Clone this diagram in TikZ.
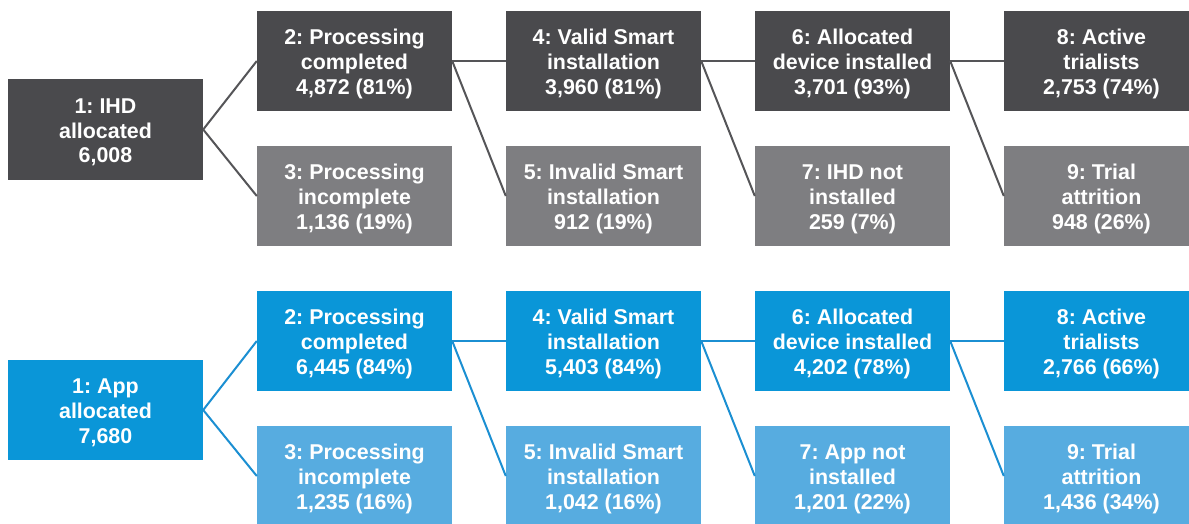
\documentclass[tikz,border=0pt]{standalone}
\usepackage{fontspec}
\setmainfont{Liberation Sans}
\definecolor{darkbox}{HTML}{4A4A4D}
\definecolor{greybox}{HTML}{7E7E81}
\definecolor{greyline}{HTML}{555558}
\definecolor{bluebox}{HTML}{0A96D8}
\definecolor{lightblue}{HTML}{57ACE0}
\definecolor{blueline}{HTML}{1B8FD2}
\tikzset{
  stagebox/.style={rectangle, inner sep=0pt, minimum width=195pt, minimum height=100pt,
    text height=66.6pt, text depth=0pt,
    align=center, text=white, font=\fontsize{21.4}{24.8}\selectfont\bfseries\frenchspacing},
  darkstage/.style={stagebox, fill=darkbox},
  greystage/.style={stagebox, fill=greybox},
  bluestage/.style={stagebox, fill=bluebox},
  lightstage/.style={stagebox, fill=lightblue},
  greylink/.style={draw=greyline, line width=2pt},
  bluelink/.style={draw=blueline, line width=2pt},
}
\begin{document}
\begin{tikzpicture}[x=1pt, y=-1pt]
\useasboundingbox (0,0) rectangle (1189,523);
\clip (0,0) rectangle (1189,523);
\fill[white] (0,0) rectangle (1189,523);

% IHD funnel
\node[darkstage, minimum height=101pt] (a1) at (105.5,129.5) {1: IHD\\allocated\\6,008};
\node[darkstage] (a2) at (354.5,61) {2: Processing\\completed\\4,872 (81\%)};
\node[greystage] (a3) at (354.5,196) {3: Processing\\incomplete\\1,136 (19\%)};
\node[darkstage] (a4) at (603.5,61) {4: Valid Smart\\installation\\3,960 (81\%)};
\node[greystage] (a5) at (603.5,196) {5: Invalid Smart\\installation\\912 (19\%)};
\node[darkstage] (a6) at (852.5,61) {6: Allocated\\device installed\\3,701 (93\%)};
\node[greystage] (a7) at (852.5,196) {7: IHD not\\installed\\259 (7\%)};
\node[darkstage] (a8) at (1101.5,61) {8: Active\\trialists\\2,753 (74\%)};
\node[greystage] (a9) at (1101.5,196) {9: Trial\\attrition\\948 (26\%)};

\draw[greylink] (a1.east) -- (a2.west);
\draw[greylink] (a1.east) -- (a3.west);
\draw[greylink] (a2.east) -- (a4.west);
\draw[greylink] (a2.east) -- (a5.west);
\draw[greylink] (a4.east) -- (a6.west);
\draw[greylink] (a4.east) -- (a7.west);
\draw[greylink] (a6.east) -- (a8.west);
\draw[greylink] (a6.east) -- (a9.west);

% App funnel
\node[bluestage] (b1) at (105.5,410) {1: App\\allocated\\7,680};
\node[bluestage] (b2) at (354.5,341) {2: Processing\\completed\\6,445 (84\%)};
\node[lightstage] (b3) at (354.5,476) {3: Processing\\incomplete\\1,235 (16\%)};
\node[bluestage] (b4) at (603.5,341) {4: Valid Smart\\installation\\5,403 (84\%)};
\node[lightstage] (b5) at (603.5,476) {5: Invalid Smart\\installation\\1,042 (16\%)};
\node[bluestage] (b6) at (852.5,341) {6: Allocated\\device installed\\4,202 (78\%)};
\node[lightstage] (b7) at (852.5,476) {7: App not\\installed\\1,201 (22\%)};
\node[bluestage] (b8) at (1101.5,341) {8: Active\\trialists\\2,766 (66\%)};
\node[lightstage] (b9) at (1101.5,476) {9: Trial\\attrition\\1,436 (34\%)};

\draw[bluelink] (b1.east) -- (b2.west);
\draw[bluelink] (b1.east) -- (b3.west);
\draw[bluelink] (b2.east) -- (b4.west);
\draw[bluelink] (b2.east) -- (b5.west);
\draw[bluelink] (b4.east) -- (b6.west);
\draw[bluelink] (b4.east) -- (b7.west);
\draw[bluelink] (b6.east) -- (b8.west);
\draw[bluelink] (b6.east) -- (b9.west);
\end{tikzpicture}
\end{document}
